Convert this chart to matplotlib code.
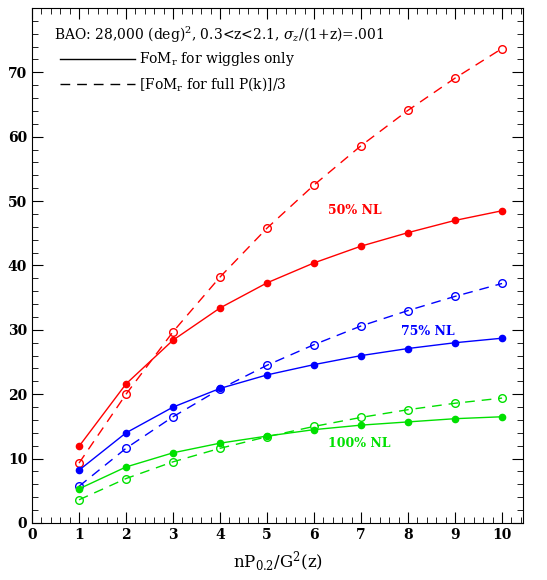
import matplotlib
matplotlib.use("Agg")
import matplotlib.pyplot as plt
from matplotlib.ticker import MultipleLocator

plt.rcParams['font.family'] = 'DejaVu Serif'
plt.rcParams['mathtext.fontset'] = 'dejavuserif'

x = [1, 2, 3, 4, 5, 6, 7, 8, 9, 10]

# 50% NL
red_wiggles = [11.9, 21.6, 28.4, 33.4, 37.3, 40.4, 43.0, 45.1, 47.0, 48.5]
red_full = [9.3, 20.0, 29.7, 38.2, 45.8, 52.5, 58.6, 64.1, 69.1, 73.7]
# 75% NL
blue_wiggles = [8.2, 14.0, 18.0, 20.9, 23.0, 24.6, 26.0, 27.1, 28.0, 28.7]
blue_full = [5.7, 11.6, 16.5, 20.8, 24.5, 27.7, 30.6, 33.0, 35.2, 37.2]
# 100% NL
green_wiggles = [5.3, 8.7, 10.9, 12.4, 13.5, 14.5, 15.2, 15.7, 16.2, 16.5]
green_full = [3.6, 6.9, 9.5, 11.6, 13.4, 15.0, 16.4, 17.6, 18.6, 19.4]

series = [
    ("#ff0000", red_wiggles, red_full, "50% NL", (6.3, 48.6)),
    ("#0000ff", blue_wiggles, blue_full, "75% NL", (7.85, 29.7)),
    ("#00e000", green_wiggles, green_full, "100% NL", (6.3, 12.4)),
]

fig = plt.figure(figsize=(5.47, 5.80), dpi=100)
ax = fig.add_axes([0.0585, 0.0983, 0.898, 0.888])

for color, wig, full, label, pos in series:
    ax.plot(x, wig, color=color, lw=1.0, marker='o', ms=4.5, mfc=color, mec=color)
    ax.plot(x, full, color=color, lw=1.0, linestyle=(0, (7, 5)), marker='o', ms=5.5,
            mfc='none', mec=color, mew=1.0)
    ax.text(pos[0], pos[1], label, color=color, fontsize=9, fontweight='bold',
            va='center', ha='left')

ax.set_xlim(0, 10.45)
ax.set_ylim(0, 80)
ax.xaxis.set_major_locator(MultipleLocator(1))
ax.xaxis.set_minor_locator(MultipleLocator(0.2))
ax.yaxis.set_major_locator(MultipleLocator(10))
ax.yaxis.set_minor_locator(MultipleLocator(2))
ax.tick_params(which='both', direction='in', top=True, right=True, labelsize=10)
ax.tick_params(which='major', length=8)
ax.tick_params(which='minor', length=4)
ax.set_yticks(range(0, 80, 10))
ax.set_xticks(range(0, 11))
for lab in ax.get_xticklabels() + ax.get_yticklabels():
    lab.set_fontweight('bold')

ax.set_xlabel(r'nP$_{0.2}$/G$^2$(z)', fontsize=12, labelpad=6)

# key in upper left
ax.text(0.045, 0.947, r'BAO: 28,000 (deg)$^2$, 0.3<z<2.1, $\sigma_z$/(1+z)=.001',
        transform=ax.transAxes, fontsize=10, va='center')
ax.plot([0.057, 0.21], [0.90, 0.90], transform=ax.transAxes, color='black', lw=1.0)
ax.plot([0.057, 0.21], [0.853, 0.853], transform=ax.transAxes, color='black', lw=1.0,
        linestyle=(0, (7, 5)))
ax.text(0.218, 0.90, r'FoM$_\mathrm{r}$ for wiggles only', transform=ax.transAxes,
        fontsize=10, va='center')
ax.text(0.218, 0.853, r'[FoM$_\mathrm{r}$ for full P(k)]/3', transform=ax.transAxes,
        fontsize=10, va='center')

fig.savefig("out.png", dpi=100)
